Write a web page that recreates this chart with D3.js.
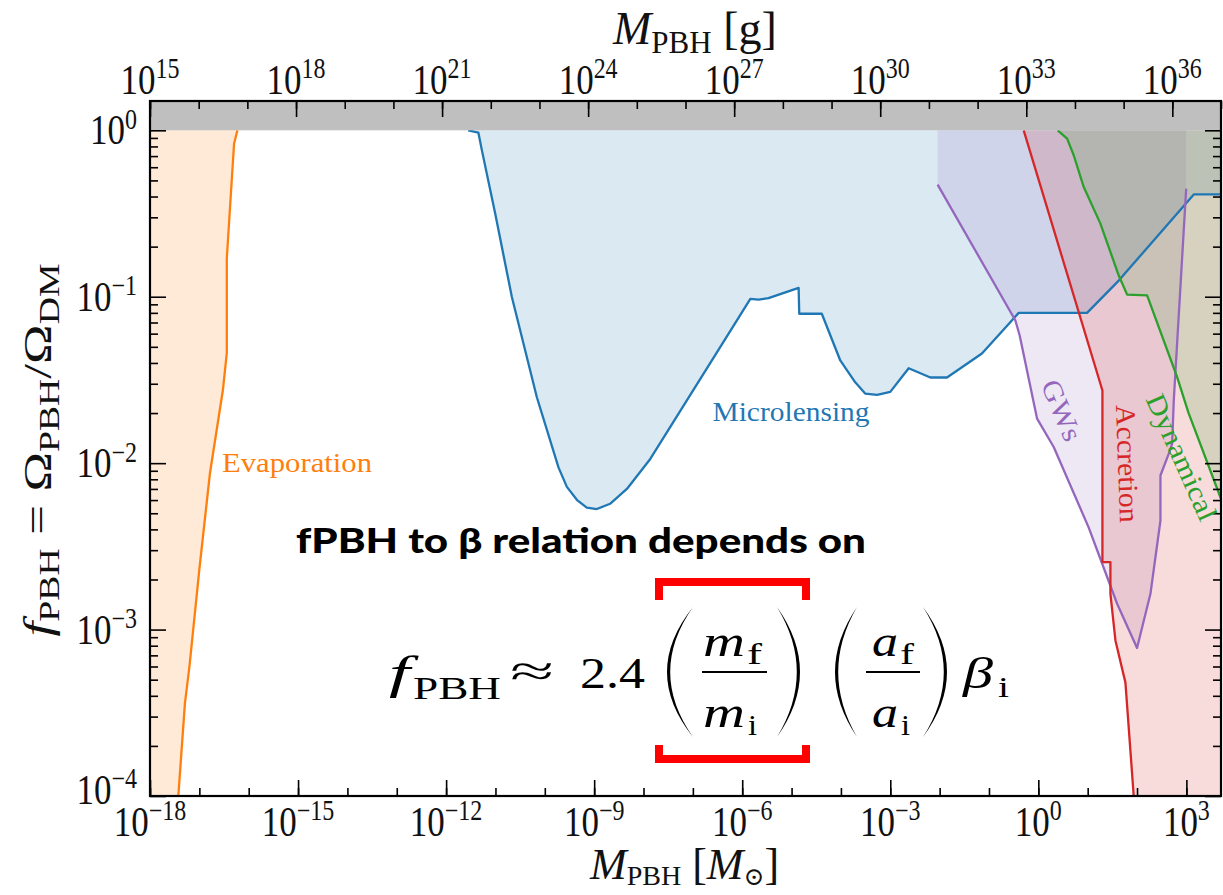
<!DOCTYPE html>
<html>
<head>
<meta charset="utf-8">
<script src="https://cdn.jsdelivr.net/npm/d3@7"></script>
<style>
  body { margin: 0; background: #fff; }
  svg text { font-family: "Liberation Serif", "DejaVu Serif", serif; }
</style>
</head>
<body>
<script>
//constraint curves, mass in solar masses and fPBH
var evapM = [5.9e-17, 5.05e-17, 3.6e-17, 3.6e-17, 3.0e-17, 1.64e-17, 1.0e-17, 6.3e-18, 5.1e-18, 3.75e-18];
var evapF = [1, 0.83, 0.17, 0.046, 0.0275, 0.0087, 0.0023, 6.0e-4, 3.6e-4, 1e-4];

var microM = [2.8e-12, 4.5e-12, 5.3e-12, 9.9e-12, 2.15e-11, 6.9e-11, 1.9e-10, 2.8e-10, 4.5e-10, 7.1e-10,
  1.13e-9, 2.1e-9, 4.6e-9, 1.37e-8, 6.7e-7, 1.46e-6, 2.14e-6, 3.4e-6, 1.39e-5, 1.43e-5,
  4.1e-5, 9.7e-5, 1.95e-4, 3.1e-4, 5.4e-4, 1.0e-3, 2.36e-3, 6.5e-3, 1.41e-2, 7.2e-2,
  0.27, 0.40, 9.7, 42.6, 1410, 6000];
var microF = [1, 0.97, 0.76, 0.315, 0.0995, 0.0249, 0.0094, 0.0072, 0.0060, 0.0054,
  0.0053, 0.0057, 0.0070, 0.0106, 0.067, 0.097, 0.096, 0.098, 0.113, 0.079,
  0.079, 0.0414, 0.0306, 0.0262, 0.0257, 0.0268, 0.0372, 0.0327, 0.0327, 0.0456,
  0.0703, 0.080, 0.080, 0.125, 0.412, 0.412];

var gwM = [9.1e-3, 9.1e-3, 0.343, 0.419, 0.944, 2.05, 10.5, 39.5, 100, 187, 236, 298, 298, 440, 515, 555, 991, 991];
var gwF = [1, 0.472, 0.072, 0.0585, 0.0185, 0.0125, 0.0041, 0.00143, 7.75e-4, 0.00164, 0.00272, 0.00452, 0.00843, 0.0114, 0.0131, 0.0238, 0.446, 1];

var accM = [0.505, 18.1, 19.9, 19.9, 28.9, 28.9, 36.5, 58.2, 85.7];
var accF = [1, 0.030, 0.0273, 0.00254, 0.00254, 0.00164, 8.6e-4, 4.8e-4, 1e-4];

var dynM = [2.47, 3.83, 5.21, 8.32, 18.1, 42.6, 63, 160, 650, 1100, 5140, 19900];
var dynF = [1, 0.891, 0.708, 0.456, 0.275, 0.134, 0.103, 0.102, 0.0329, 0.0201, 0.0060, 0.0024];

//tick exponents
var bottomExp = [-18, -15, -12, -9, -6, -3, 0, 3];
var topExp = [15, 18, 21, 24, 27, 30, 33, 36];
var leftExp = [0, -1, -2, -3, -4];

(function(){
  var W = 1223, H = 895;
  var L = 150, R = 1221, T = 101, B = 796;
  var serif = "'Liberation Serif', 'DejaVu Serif', serif";

  var svg = d3.select("body").append("svg").attr("width", W).attr("height", H)
    .attr("font-family", serif);

  var x = d3.scaleLog().domain([1e-18, 5028]).range([L, R]);
  var xg = d3.scaleLog().domain([1e15, 1e37]).range([L, R]);
  var y = d3.scaleLog().domain([1e-4, 1.5]).range([B, T]);

  svg.append("defs").append("clipPath").attr("id", "plotclip")
    .append("rect").attr("x", L).attr("y", T).attr("width", R - L).attr("height", B - T);

  var line = d3.line().x(function(d){ return x(d[0]); }).y(function(d){ return y(d[1]); });
  function pairs(ms, fs){ return ms.map(function(m, i){ return [m, fs[i]]; }); }

  var evap = pairs(evapM, evapF), micro = pairs(microM, microF), gw = pairs(gwM, gwF),
      acc = pairs(accM, accF), dyn = pairs(dynM, dynF);

  var regions = [
    {color: "#ff7f0e", poly: [[1e-19, 1]].concat(evap).concat([[1e-19, 1e-5]]), edge: evap},
    {color: "#1f77b4", poly: micro.concat([[6000, 1]]), edge: micro},
    {color: "#9467bd", poly: gw, edge: gw.slice(1, gw.length - 1)},
    {color: "#d62728", poly: acc.concat([[1e6, 1e-5], [1e6, 1]]), edge: acc},
    {color: "#2ca02c", poly: dyn.concat([[1e6, 0.0024], [1e6, 1]]), edge: dyn}
  ];

  var plot = svg.append("g").attr("clip-path", "url(#plotclip)");

  //filled areas first, then the bounding lines
  plot.selectAll(".fill").data(regions).enter().append("path")
    .attr("class", "fill")
    .attr("d", function(d){ return line(d.poly) + "Z"; })
    .attr("fill", function(d){ return d.color; })
    .attr("fill-opacity", 0.16)
    .attr("stroke", "none");

  plot.selectAll(".edge").data(regions).enter().append("path")
    .attr("class", "edge")
    .attr("d", function(d){ return line(d.edge); })
    .attr("fill", "none")
    .attr("stroke", function(d){ return d.color; })
    .attr("stroke-width", 2.3)
    .attr("stroke-linejoin", "round");

  //grey band above f = 1
  svg.append("rect").attr("x", L).attr("y", T).attr("width", R - L).attr("height", y(1) - T)
    .attr("fill", "#bfbfbf");

  //ticks
  function decades(a, b){ var r = []; for (var e = a; e <= b; e++) r.push(Math.pow(10, e)); return r; }
  var yMinor = [];
  for (var e = -4; e < 0; e++) for (var k = 2; k <= 9; k++) yMinor.push(k * Math.pow(10, e));

  function addAxis(axis, tr){
    var g = svg.append("g").attr("transform", tr).call(axis);
    g.select(".domain").remove();
    g.selectAll(".tick line").attr("stroke", "#000").attr("stroke-width", 1.6);
    return g;
  }
  var pw = function(e){ return Math.pow(10, e); };
  addAxis(d3.axisBottom(x).tickValues(decades(-18, 3)).tickSize(-8).tickFormat(""), "translate(0," + B + ")");
  addAxis(d3.axisBottom(x).tickValues(bottomExp.map(pw)).tickSize(-16).tickFormat(""), "translate(0," + B + ")");
  addAxis(d3.axisTop(xg).tickValues(decades(15, 37)).tickSize(-8).tickFormat(""), "translate(0," + T + ")");
  addAxis(d3.axisTop(xg).tickValues(topExp.map(pw)).tickSize(-16).tickFormat(""), "translate(0," + T + ")");
  addAxis(d3.axisLeft(y).tickValues(yMinor).tickSize(-8).tickFormat(""), "translate(" + L + ",0)");
  addAxis(d3.axisLeft(y).tickValues(leftExp.map(pw)).tickSize(-16).tickFormat(""), "translate(" + L + ",0)");
  addAxis(d3.axisRight(y).tickValues(yMinor).tickSize(-8).tickFormat(""), "translate(" + R + ",0)");
  addAxis(d3.axisRight(y).tickValues(leftExp.map(pw)).tickSize(-16).tickFormat(""), "translate(" + R + ",0)");

  svg.append("rect").attr("x", L).attr("y", T).attr("width", R - L).attr("height", B - T)
    .attr("fill", "none").attr("stroke", "#000").attr("stroke-width", 2.2);

  //power-of-ten tick labels
  function powLabel(px, py, e, anchor){
    var t = svg.append("text")
      .attr("transform", "translate(" + px + "," + py + ") scale(1,1.2)")
      .attr("text-anchor", anchor).style("font-size", "35px").attr("fill", "#111");
    t.append("tspan").text("10");
    t.append("tspan").attr("dy", -13).style("font-size", "24px").text(e < 0 ? "\u2212" + (-e) : e);
  }
  bottomExp.forEach(function(e){ powLabel(x(pw(e)), 836, e, "middle"); });
  topExp.forEach(function(e){ powLabel(xg(pw(e)), 94, e, "middle"); });
  //lowest left label sits a touch higher so it clears the first bottom label
  leftExp.forEach(function(e){ powLabel(137, y(pw(e)) + (e === -4 ? 8 : 14), e, "end"); });

  //axis titles
  var tt = svg.append("text").attr("x", 613).attr("y", 44).style("font-size", "46px").attr("fill", "#111");
  tt.append("tspan").style("font-style", "italic").text("M");
  tt.append("tspan").attr("dy", 9).style("font-size", "31px").text("PBH");
  tt.append("tspan").attr("dy", -9).text(" [g]");

  var bt = svg.append("text").attr("x", 590).attr("y", 879).style("font-size", "44px").attr("fill", "#111");
  bt.append("tspan").style("font-style", "italic").text("M");
  bt.append("tspan").attr("dy", 6).style("font-size", "28px").text("PBH");
  bt.append("tspan").attr("dy", -6).text(" [");
  bt.append("tspan").style("font-style", "italic").text("M");
  bt.append("tspan").attr("dy", 6).style("font-size", "25px").text("\u2299");
  bt.append("tspan").attr("dy", -6).text("]");

  var yt = svg.append("text").attr("transform", "translate(51,450) scale(1,1.3) rotate(-90)")
    .attr("text-anchor", "middle").style("font-size", "41px").attr("fill", "#111");
  yt.append("tspan").style("font-style", "italic").text("f");
  yt.append("tspan").attr("dy", 8).style("font-size", "29px").text("PBH");
  yt.append("tspan").attr("dy", -8).text(" = \u03A9");
  yt.append("tspan").attr("dy", 8).style("font-size", "29px").text("PBH");
  yt.append("tspan").attr("dy", -8).text("/\u03A9");
  yt.append("tspan").attr("dy", 8).style("font-size", "29px").text("DM");

  //curve labels
  function curveLabel(txt, px, py, rot, color, len){
    svg.append("text").attr("transform", "translate(" + px + "," + py + ") rotate(" + rot + ")")
      .attr("text-anchor", "middle").style("font-size", "28px").attr("fill", color)
      .attr("textLength", len).attr("lengthAdjust", "spacingAndGlyphs").text(txt);
  }
  curveLabel("Evaporation", 297, 472, 0, "#ff7f0e", 150);
  curveLabel("Microlensing", 791, 421, 0, "#1f77b4", 157);
  curveLabel("GWs", 1053, 414, 67, "#9467bd", 64);
  curveLabel("Accretion", 1118, 464, 88, "#d62728", 118);
  curveLabel("Dynamical", 1173, 461, 66, "#2ca02c", 136);

  //annotation
  svg.append("text").attr("x", 296).attr("y", 553)
    .style("font-family", "Lato, 'Open Sans', sans-serif").style("font-weight", 900)
    .style("font-size", "34px").attr("fill", "#000")
    .attr("textLength", 570).attr("lengthAdjust", "spacingAndGlyphs")
    .text("fPBH to \u03B2 relation depends on");

  var eq = svg.append("g").attr("fill", "#000");
  function piece(txt, x0, x1, base, size, italic){
    eq.append("text").attr("x", x0).attr("y", base).style("font-size", size + "px")
      .style("font-style", italic ? "italic" : "normal")
      .attr("textLength", x1 - x0).attr("lengthAdjust", "spacingAndGlyphs").text(txt);
  }
  piece("f", 389, 410, 688, 46, true);
  piece("PBH", 413, 501, 699, 31, false);
  piece("\u2248", 510, 554, 686, 44, false);
  piece("2.4", 580, 645, 688, 44, false);
  piece("m", 703, 745, 656, 44, true);
  piece("f", 747, 762, 664, 30, false);
  piece("m", 703, 745, 727, 44, true);
  piece("i", 748, 757, 735, 30, false);
  piece("a", 872, 898, 656, 44, true);
  piece("f", 900, 914, 664, 30, false);
  piece("a", 872, 898, 727, 44, true);
  piece("i", 901, 910, 735, 30, false);
  piece("\u03B2", 963, 993, 688, 44, true);
  piece("i", 998, 1009, 697, 30, false);
  [[702, 767], [866, 920]].forEach(function(b){
    eq.append("line").attr("x1", b[0]).attr("x2", b[1]).attr("y1", 672).attr("y2", 672)
      .attr("stroke", "#000").attr("stroke-width", 2);
  });
  function paren(x0, x1, y0, y1, open){
    var ym = (y0 + y1) / 2, t = 3.2, d;
    if (open) {
      var c = 2 * x0 - x1;
      d = "M" + x1 + "," + y0 + " Q" + c + "," + ym + " " + x1 + "," + y1 +
          " Q" + (c + 2 * t) + "," + ym + " " + x1 + "," + y0 + "Z";
    } else {
      var c2 = 2 * x1 - x0;
      d = "M" + x0 + "," + y0 + " Q" + c2 + "," + ym + " " + x0 + "," + y1 +
          " Q" + (c2 - 2 * t) + "," + ym + " " + x0 + "," + y0 + "Z";
    }
    eq.append("path").attr("d", d);
  }
  paren(667, 693, 607, 737, true);
  paren(777, 800, 607, 737, false);
  paren(835, 857, 607, 737, true);
  paren(923, 947, 607, 737, false);

  //red bracket round the mass ratio
  svg.append("path").attr("d", "M659,600 V582 H806 V600").attr("fill", "none")
    .attr("stroke", "#ff0000").attr("stroke-width", 8);
  svg.append("path").attr("d", "M659,745 V759 H806 V745").attr("fill", "none")
    .attr("stroke", "#ff0000").attr("stroke-width", 8);
})();
</script>
</body>
</html>
